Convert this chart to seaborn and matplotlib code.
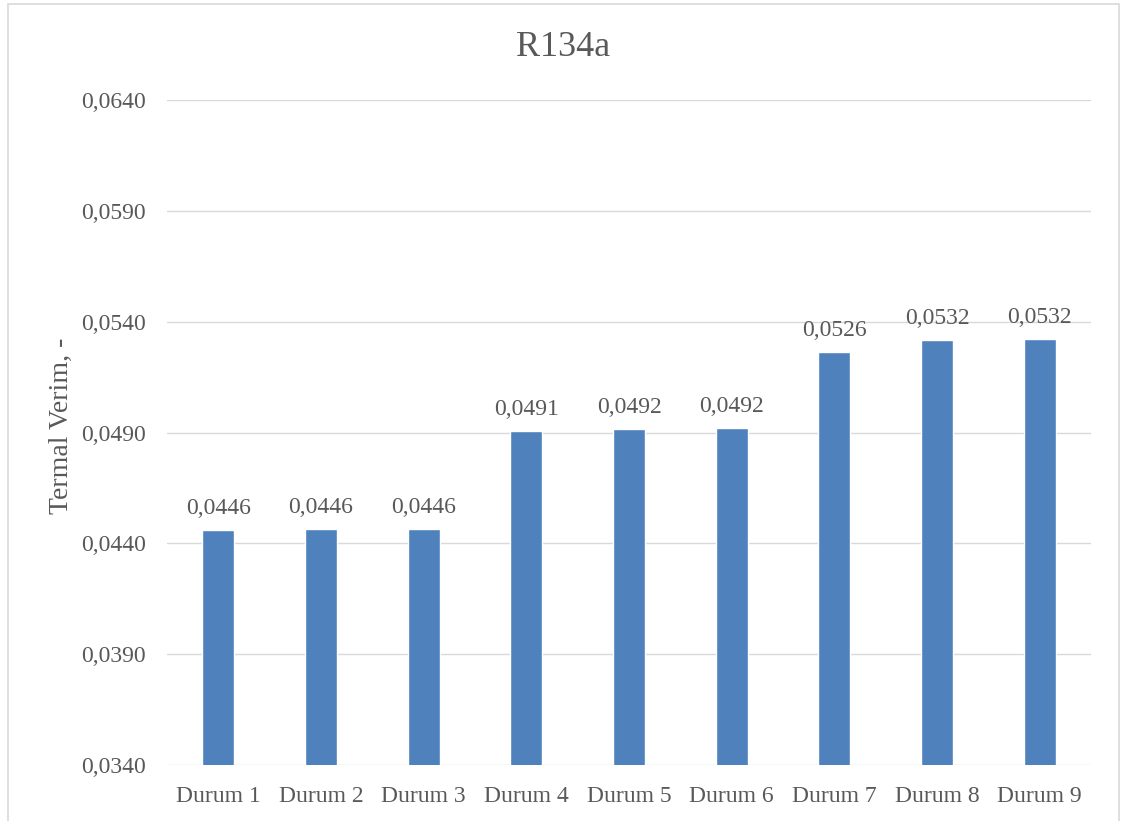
import matplotlib
matplotlib.use("Agg")
import numpy as np
import pandas as pd
import matplotlib.pyplot as plt
import seaborn as sns
from matplotlib.ticker import FuncFormatter
from matplotlib.patches import Rectangle

# data
cases = ["Durum 1", "Durum 2", "Durum 3", "Durum 4", "Durum 5",
         "Durum 6", "Durum 7", "Durum 8", "Durum 9"]
efficiency = [0.04460, 0.04463, 0.04463, 0.04907, 0.04916,
              0.04920, 0.05262, 0.05316, 0.05322]
y_ticks = [0.0340, 0.0390, 0.0440, 0.0490, 0.0540, 0.0590, 0.0640]
title = "R134a"
y_label = "Termal Verim, -"

df = pd.DataFrame({"case": cases, "eff": efficiency})

sns.set_theme(style="white")
plt.rcParams["font.family"] = ["Liberation Serif", "DejaVu Serif"]
text_col = "#595959"
grid_col = "#D9D9D9"
bar_col = "#4F81BD"

fig = plt.figure(figsize=(11.26, 8.21), dpi=100)
ax = fig.add_axes([167 / 1126, 1 - 765 / 821, 924 / 1126, 665 / 821])

sns.barplot(data=df, x="case", y="eff", color=bar_col, saturation=1,
            width=0.31, ax=ax)

ax.set_ylim(y_ticks[0], y_ticks[-1])
ax.set_yticks(y_ticks)
ax.yaxis.set_major_formatter(FuncFormatter(lambda v, p: f"{v:.4f}".replace(".", ",")))
ax.grid(axis="y", color=grid_col, linewidth=1.0)
ax.set_axisbelow(True)
for s in ax.spines.values():
    s.set_visible(False)

ax.tick_params(axis="y", length=0, pad=15, labelsize=17, labelcolor=text_col)
ax.tick_params(axis="x", length=0, pad=15, labelsize=17, labelcolor=text_col)
ax.set_xlabel("")
ax.set_ylabel(y_label, fontsize=20, color=text_col)
ax.yaxis.set_label_coords(-0.101, 0.51)

# data labels
for i, v in enumerate(efficiency):
    ax.annotate(f"{v:.4f}".replace(".", ","), (i, v), xytext=(0, 8),
                textcoords="offset points", ha="center", va="bottom",
                fontsize=17, color=text_col)

fig.text(0.5, 1 - 48 / 821, title, ha="center", va="center",
         fontsize=26, color=text_col)

# chart frame
fig.add_artist(Rectangle((8 / 1126, -0.01), (1119 - 8) / 1126, 1.01 - 4 / 821,
                         transform=fig.transFigure, fill=False,
                         edgecolor=grid_col, linewidth=1.2))

fig.savefig("out.png", dpi=100)
